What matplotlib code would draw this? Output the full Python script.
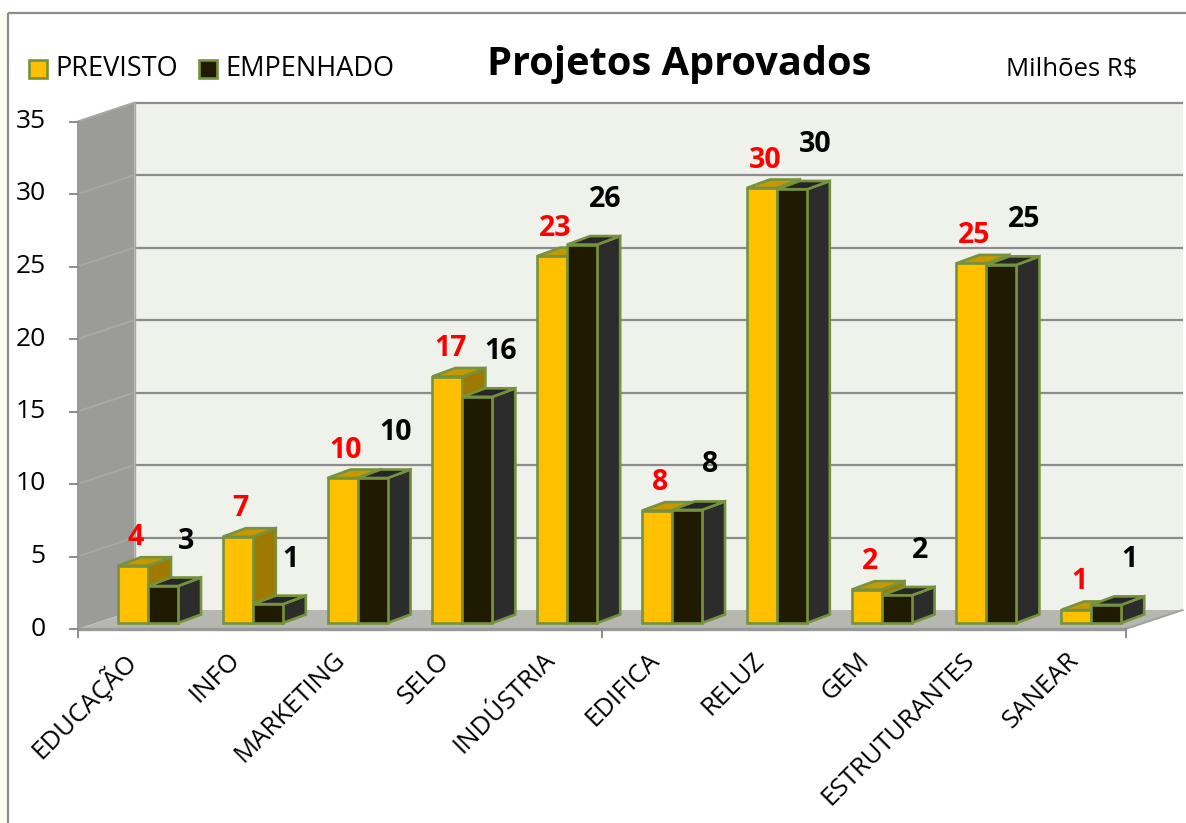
import matplotlib
matplotlib.use("Agg")
import matplotlib.pyplot as plt
from matplotlib.patches import Polygon, Rectangle

# ---------------- data ----------------
categories = ["EDUCAÇÃO", "INFO", "MARKETING", "SELO", "INDÚSTRIA",
              "EDIFICA", "RELUZ", "GEM", "ESTRUTURANTES", "SANEAR"]
previsto = [3.95, 5.95, 10.0, 17.0, 25.3, 7.75, 30.0, 2.3, 24.8, 0.9]
empenhado = [2.55, 1.3, 10.0, 15.6, 26.1, 7.8, 29.9, 1.9, 24.7, 1.25]
previsto_labels = ["4", "7", "10", "17", "23", "8", "30", "2", "25", "1"]
empenhado_labels = ["3", "1", "10", "16", "26", "8", "30", "2", "25", "1"]
yticks = [0, 5, 10, 15, 20, 25, 30, 35]
series_names = ["PREVISTO", "EMPENHADO"]
title = "Projetos Aprovados"
unit_text = "Milhões R$"

# ---------------- layout / style ----------------
W, H = 1186, 823
SX, SY = 104.8, 14.5          # pixels per category unit / per value unit
X0PX, Y0PX = 148, 623         # pixel of (x=0, y=0) on the bar front plane
FP = (-18, -6)                # front plane offset (px) from bar plane
BP = (39, 13)                 # back wall offset (px) from bar plane
BD = (23, 8.5)                # bar depth (px)
BW = 30 / SX                  # bar width in x-units
XMIN, XMAX, YMAX = -0.5, len(categories) - 0.5, 35

C_PREV = ("#ffc000", "#c89800", "#a07a00")    # front, top, side
C_EMP = ("#201b00", "#262626", "#2c2c2c")
EDGE = "#76923c"
ELW = 1.9
FONT = "Open Sans"

plt.rcParams["font.family"] = [FONT, "DejaVu Sans"]

fig = plt.figure(figsize=(W / 100, H / 100), dpi=100)
ax = fig.add_axes([0, 0, 1, 1])
ax.set_xlim(-X0PX / SX, (W - X0PX) / SX)
ax.set_ylim((Y0PX - H) / SY, Y0PX / SY)
ax.axis("off")


def off(x, y, d):
    return (x + d[0] / SX, y + d[1] / SY)


def P(px, py):
    return ((px - X0PX) / SX, (Y0PX - py) / SY)


def poly(pts, fc, ec="none", lw=0, z=1, **kw):
    ax.add_patch(Polygon(pts, closed=True, facecolor=fc, edgecolor=ec,
                         linewidth=lw, zorder=z, joinstyle="miter", **kw))


# page background strip & border
ax.add_patch(Rectangle(P(0, H), 8 / SX, (H - 13) / SY, facecolor="#fcfcef",
                       edgecolor="none", zorder=0))
bx, by = P(8, 13)
ex, ey = P(W + 5, H + 5)
ax.plot([bx, ex], [by, by], color="#8c8c8c", lw=1.6, zorder=0.5,
        solid_capstyle="butt")
ax.plot([bx, bx], [by, ey], color="#8c8c8c", lw=1.6, zorder=0.5,
        solid_capstyle="butt")

# back wall
poly([off(XMIN, 0, BP), off(XMAX, 0, BP), off(XMAX, YMAX, BP),
      off(XMIN, YMAX, BP)], "#eff1eb", z=1)
# left wall
poly([off(XMIN, 0, FP), off(XMIN, 0, BP), off(XMIN, YMAX, BP),
      off(XMIN, YMAX, FP)], "#9b9c97", z=1)
# floor
poly([off(XMIN, 0, FP), off(XMAX, 0, FP), off(XMAX, 0, BP),
      off(XMIN, 0, BP)], "#b5b7b0", z=1)

# gridlines
for v in yticks[1:]:
    a, b = off(XMIN, v, BP), off(XMAX, v, BP)
    ax.plot([a[0], b[0]], [a[1], b[1]], color="#8c8c8c", lw=1.6, zorder=1.5,
            solid_capstyle="butt")
    c, d = off(XMIN, v, FP), off(XMIN, v, BP)
    ax.plot([c[0], d[0]], [c[1], d[1]], color="#a8a9a5", lw=1.4, zorder=1.5)

# walls edges
a, b = off(XMIN, 0, FP), off(XMIN, YMAX, FP)
ax.plot([a[0], b[0]], [a[1], b[1]], color="#9a9a9a", lw=1.4, zorder=1.6)
a, b = off(XMIN, 0, FP), off(XMAX, 0, FP)
ax.plot([a[0], b[0]], [a[1], b[1]], color="#999999", lw=2.4, zorder=1.6,
        solid_capstyle="butt")
a, b = off(XMAX, 0, FP), off(XMAX, 0, BP)
ax.plot([a[0], b[0]], [a[1], b[1]], color="#a0a0a0", lw=1.4, zorder=1.6)
a, b = off(XMIN, 0, BP), off(XMIN, YMAX, BP)
ax.plot([a[0], b[0]], [a[1], b[1]], color="#a5a5a5", lw=1.0, zorder=1.6)

# y ticks and labels
for v in yticks:
    a = off(XMIN, v, FP)
    ax.plot([a[0] - 8 / SX, a[0]], [a[1], a[1]], color="#8c8c8c", lw=1.4,
            zorder=1.6)
    ax.text(a[0] - 32 / SX, a[1], str(v), ha="right", va="center",
            fontsize=19, color="black")

# x ticks (every 5 categories)
for xt in [XMIN, XMIN + 5, XMAX]:
    a = off(xt, 0, FP)
    ax.plot([a[0], a[0]], [a[1], a[1] - 8 / SY], color="#8c8c8c", lw=1.4,
            zorder=1.6)


def draw_bar(x0, h, colors, z):
    front, top, side = colors
    poly([(x0 + BW, 0), off(x0 + BW, 0, BD), off(x0 + BW, h, BD),
          (x0 + BW, h)], side, EDGE, ELW, z)
    poly([(x0, h), (x0 + BW, h), off(x0 + BW, h, BD), off(x0, h, BD)],
         top, EDGE, ELW, z)


xs = list(range(len(categories)))
for i in xs:
    draw_bar(i - BW, previsto[i], C_PREV, 3.0)
    draw_bar(i, empenhado[i], C_EMP, 3.4)
ax.bar([i - BW for i in xs], previsto, width=BW, align="edge",
       color=C_PREV[0], edgecolor=EDGE, linewidth=ELW, zorder=3.2)
ax.bar(xs, empenhado, width=BW, align="edge",
       color=C_EMP[0], edgecolor=EDGE, linewidth=ELW, zorder=3.6)

# data labels
for i in xs:
    ax.text(i - BW / 2 + 3 / SX, previsto[i] + 28 / SY, previsto_labels[i],
            ha="center", va="center", fontsize=20.5, fontweight="bold",
            color="#ff0000", zorder=5)
    ax.text(i + BW / 2 + 23 / SX, empenhado[i] + 45 / SY, empenhado_labels[i],
            ha="center", va="center", fontsize=20.5, fontweight="bold",
            color="black", zorder=5)

# category labels
for i, name in enumerate(categories):
    ax.text(i - 16 / SX, -2.3, name, rotation=45, rotation_mode="anchor",
            ha="right", va="center", fontsize=18.5, color="black")

# legend
for (lx, tx), name, col in zip([(29, 56), (199, 226)], series_names,
                               [C_PREV[0], C_EMP[0]]):
    px0, py0 = P(lx, 78)
    ax.add_patch(Rectangle((px0, py0), 18 / SX, 18 / SY, facecolor=col,
                           edgecolor=EDGE, linewidth=ELW, zorder=5))
    ax.text(*P(tx - 1, 69), name, ha="left", va="center", fontsize=19.5)

ax.text(*P(679, 65), title, ha="center", va="center", fontsize=28.6,
        fontweight="bold")
ax.text(*P(1006, 70), unit_text, ha="left", va="center", fontsize=18.5)

fig.savefig("out.png", dpi=100)
